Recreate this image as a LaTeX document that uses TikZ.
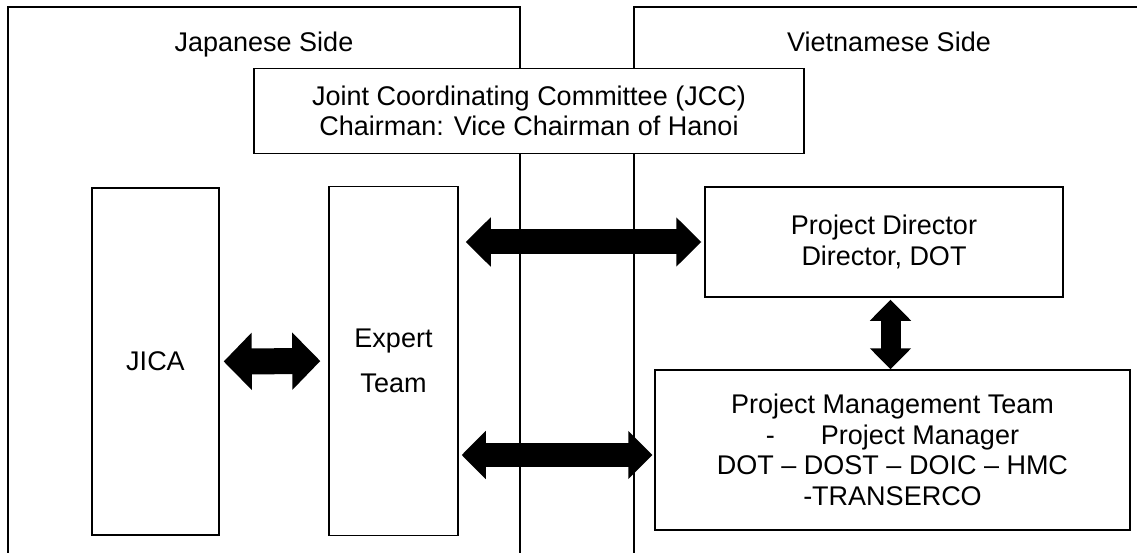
\documentclass[tikz,border=0pt]{standalone}
\usepackage{fontspec}
\setmainfont{Liberation Sans}
\usetikzlibrary{arrows.meta}

\tikzset{
  box/.style={draw, line width=1.5pt, fill=white, align=center, inner sep=0pt},
  sideline/.style={line width=2pt},
  blockarr/.style n args={3}{line width=#1,
    {Triangle[width=#2,length=#3,line width=2pt]}-{Triangle[width=#2,length=#3,line width=2pt]}}
}

\begin{document}
\begin{tikzpicture}[x=1pt,y=-1pt,font=\fontsize{27}{30.5}\selectfont]
    \useasboundingbox (0,0) rectangle (1137,553);
    % the two sides
    \draw[sideline] (8,553) -- (8,7) -- (520,7) -- (520,553);
    \draw[sideline] (1137,7) -- (634,7) -- (634,553);
    \node[anchor=base] (JS) at (264,52) {Japanese Side};
    \node[anchor=base] (VS) at (889,52) {Vietnamese Side};
    % boxes
    \node[box, minimum width=550pt, minimum height=85pt] (JCC) at (529,111)
      {Joint Coordinating Committee (JCC)\\Chairman: Vice Chairman of Hanoi};
    \node[box, minimum width=127pt, minimum height=347pt] (JICA) at (155.5,361.5) {JICA};
    \node[box, minimum width=129pt, minimum height=349pt] (EXP) at (393.5,361) {Expert\\[15pt]Team};
    \node[box, minimum width=358pt, minimum height=110pt] (PD) at (884,242)
      {Project Director\\Director, DOT};
    \node[box, minimum width=475pt, minimum height=160pt] (PMT) at (892.5,450)
      {Project Management Team\\-\hspace{46pt}Project Manager\hspace{52pt}\\DOT -- DOST -- DOIC -- HMC\\-TRANSERCO};
    % arrows
    \draw[blockarr={25pt}{49pt}{25pt}, shorten <=7pt, shorten >=3pt] (EXP.east |- PD.west) -- (PD.west);
    \draw[blockarr={26pt}{57pt}{28pt}, shorten <=4pt, shorten >=8pt] (JICA.east) -- (EXP.west);
    \draw[blockarr={24pt}{48pt}{24pt}, shorten <=3pt, shorten >=2pt] ([yshift=-5pt]EXP.east |- PMT.west) -- ([yshift=-5pt]PMT.west);
    \draw[blockarr={20pt}{41pt}{21pt}, shorten <=2pt] ([xshift=-2pt]PMT.north |- PD.south) -- ([xshift=-2pt]PMT.north);
\end{tikzpicture}
\end{document}
